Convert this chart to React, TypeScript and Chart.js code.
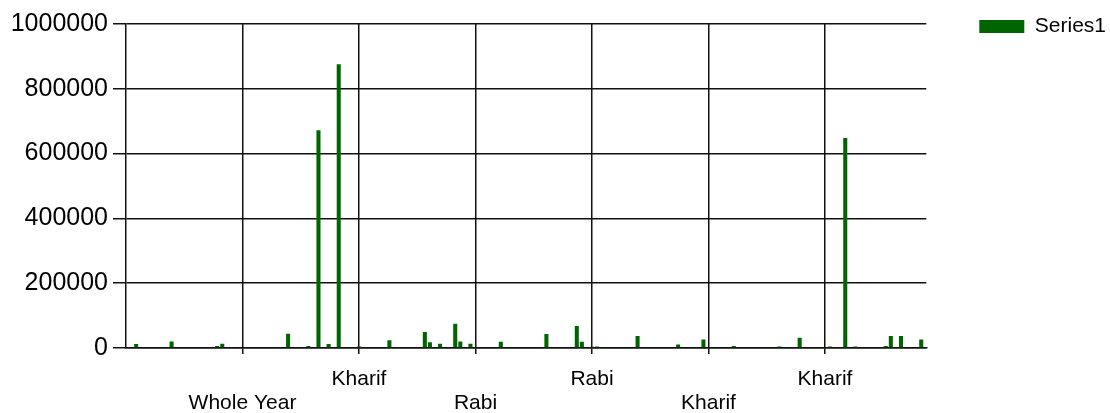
import { useEffect, useRef } from "react";
import { Chart, registerables } from "chart.js";

Chart.register(...registerables);

// Category axis: 157 rows, labelled every 23rd row (staggered in two rows)
const categoryCount = 157;
const labelIndex = [23, 46, 69, 92, 115, 138];
const labelText = ["Whole Year", "Kharif", "Rabi", "Rabi", "Kharif", "Kharif"];

// Rows that have a visible (non-zero) bar
const barIndex = [
  2, 9, 18, 19, 32, 36, 38, 40, 42, 46,
  52, 59, 60, 62, 65, 66, 68, 74, 83, 89,
  90, 92, 93, 101, 109, 114, 120, 129, 133, 139,
  142, 144, 150, 151, 153, 157,
];
const barValue = [
  12000, 20000, 6000, 13000, 44000, 6000, 672000, 12000, 876000, 5000,
  24000, 49000, 18000, 13000, 75000, 20000, 13000, 19000, 43000, 68000,
  19000, 4000, 5000, 37000, 11000, 26000, 6000, 5000, 32000, 5000,
  648000, 5000, 6000, 37000, 37000, 26000,
];

const yMax = 1000000;
const yStep = 200000;
const seriesName = "Series1";

export default function App() {
  const canvasRef = useRef<HTMLCanvasElement | null>(null);

  useEffect(() => {
    if (!canvasRef.current) return;
    const points = barIndex.map((x, i) => ({ x, y: barValue[i] }));
    const lineColor = "#111111";
    const fontFamily = "'Liberation Sans', Arial, sans-serif";

    const chart = new Chart(canvasRef.current, {
      type: "bar",
      data: {
        datasets: [
          {
            label: seriesName,
            data: points as any,
            backgroundColor: "#006400",
            borderWidth: 0,
            categoryPercentage: 1,
            barPercentage: 0.8,
          },
        ],
      },
      options: {
        animation: false,
        responsive: false,
        devicePixelRatio: 1,
        layout: { padding: { top: -37, right: -6, left: 0, bottom: 0 } },
        plugins: {
          tooltip: { enabled: false },
          legend: {
            position: "right",
            align: "start",
            labels: {
              boxWidth: 45,
              boxHeight: 13,
              padding: 53,
              color: "#000",
              font: { family: fontFamily, size: 21 },
            },
          },
        },
        scales: {
          x: {
            type: "linear",
            offset: false,
            min: 0,
            max: categoryCount + 1,
            afterBuildTicks: (s: any) => {
              s.ticks = labelIndex.map((v) => ({ value: v }));
            },
            afterFit: (s: any) => {
              s.height = 65;
            },
            ticks: {
              autoSkip: false,
              maxRotation: 0,
              padding: 13,
              color: "#000",
              font: { family: fontFamily, size: 21, lineHeight: 1.15 },
              callback: (v: any) => {
                const k = labelIndex.indexOf(Number(v));
                if (k < 0) return "";
                return k % 2 === 0 ? ["", labelText[k]] : [labelText[k]];
              },
            },
            grid: {
              offset: false,
              color: lineColor,
              lineWidth: 1.5,
              tickLength: 6,
              drawTicks: true,
            },
            border: { display: true, color: lineColor, width: 1.5 },
          },
          y: {
            type: "linear",
            min: 0,
            max: yMax,
            afterFit: (s: any) => {
              s.width = 126;
              s.paddingTop = 24;
            },
            ticks: {
              stepSize: yStep,
              padding: 5,
              color: "#000",
              font: { family: fontFamily, size: 25 },
              callback: (v: any) => String(v),
            },
            grid: {
              color: lineColor,
              lineWidth: 1.5,
              tickLength: 13,
              drawTicks: true,
            },
            border: { display: true, color: lineColor, width: 1.5 },
          },
        },
      },
    });
    return () => chart.destroy();
  }, []);

  return (
    <div
      style={{
        position: "fixed",
        left: 0,
        top: 0,
        width: 1110,
        height: 413,
        background: "#fff",
      }}
    >
      <canvas ref={canvasRef} width={1110} height={413} />
    </div>
  );
}
